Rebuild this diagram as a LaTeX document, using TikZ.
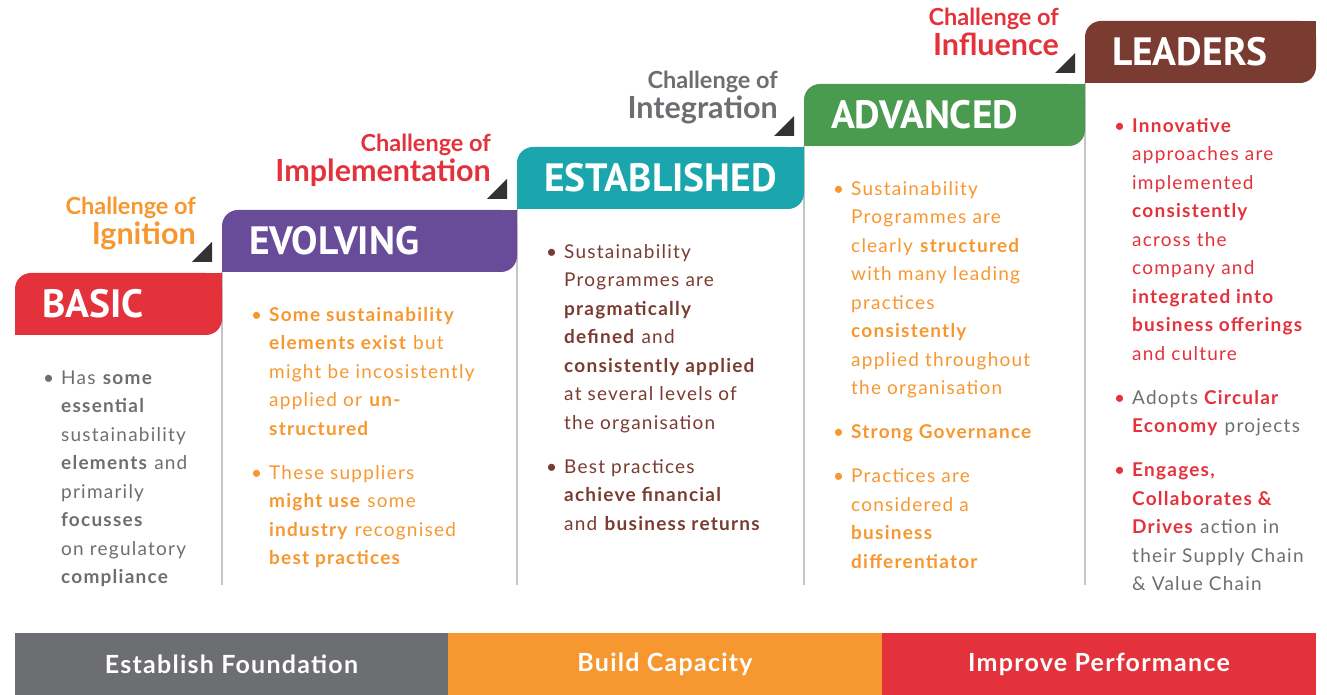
\documentclass[tikz,border=0pt]{standalone}
\usepackage{fontspec}
\setmainfont{Lato}
\newfontfamily\widefont[LetterSpace=5]{Lato}
\newfontfamily\bodyfont[LetterSpace=6.5]{Lato}
\newfontfamily\titlefont{PT Sans}
\usetikzlibrary{positioning}
\pgfdeclarelayer{bg}
\pgfsetlayers{bg,main}

\definecolor{basicred}{HTML}{E3323B}
\definecolor{evolvepurple}{HTML}{684C9A}
\definecolor{estabteal}{HTML}{1AA6AC}
\definecolor{advgreen}{HTML}{4A9A50}
\definecolor{leadbrown}{HTML}{7A3B30}
\definecolor{midgray}{HTML}{6D6E71}
\definecolor{warmorange}{HTML}{F7972F}
\definecolor{sepgray}{HTML}{C4C5C7}
\definecolor{tipgray}{HTML}{333333}

\newcommand{\bl}{\makebox[18pt][l]{\textbullet}}

\begin{document}
\begin{tikzpicture}[x=1pt,y=1pt,
    tab/.style={rounded corners=16pt, minimum height=62pt, inner xsep=27pt, inner ysep=0pt,
      outer sep=0pt, align=left, text=white, font=\titlefont\bfseries\fontsize{39.5}{41}\selectfont},
    body/.style={anchor=north west, inner sep=0pt, align=left, font=\bodyfont\fontsize{19}{28.5}\selectfont},
    chalsmall/.style={anchor=base east, inner sep=0pt, font=\bfseries\fontsize{23.5}{25}\selectfont},
    chalbig/.style={anchor=base east, inner sep=0pt, font=\bfseries\fontsize{30.5}{32}\selectfont},
    sepline/.style={draw=sepgray, line width=1.5pt},
    bar/.style={minimum height=62pt, inner sep=0pt, outer sep=0pt, text=white,
      font=\widefont\bfseries\fontsize{25}{27}\selectfont}]
  \useasboundingbox (0,0) rectangle (1327,695);
  \coordinate (floor) at (0,110);

  % the five steps
  \node[tab, fill=basicred, minimum width=207pt, text width=153pt, anchor=north west] (basic) at (15,422) {BASIC};
  \node[tab, fill=evolvepurple, minimum width=295pt, text width=241pt, anchor=south west] (evolving) at ([yshift=1pt]basic.north east) {EVOLVING};
  \node[tab, fill=estabteal, minimum width=287pt, text width=233pt, anchor=south west] (established) at ([yshift=1pt]evolving.north east) {ESTABLISHED};
  \node[tab, fill=advgreen, minimum width=281pt, text width=227pt, anchor=south west] (advanced) at ([yshift=1pt]established.north east) {ADVANCED};
  \node[tab, fill=leadbrown, minimum width=231pt, text width=177pt, anchor=south west] (leaders) at ([yshift=1pt]advanced.north east) {LEADERS};

  % square off two corners of each step
  \foreach \s/\c in {basic/basicred, evolving/evolvepurple, established/estabteal, advanced/advgreen, leaders/leadbrown} {
    \fill[\c] (\s.south west) rectangle ++(18,18);
    \fill[\c] (\s.north east) rectangle ++(-18,-18);
  }

  % column rules
  \begin{pgfonlayer}{bg}
    \foreach \s in {evolving, established, advanced, leaders}
      \draw[sepline] (\s.south west) -- (\s.south west |- floor);
  \end{pgfonlayer}

  % challenges
  \foreach \s/\c/\t in {evolving/warmorange/Ignition, established/basicred/Implementation,
      advanced/midgray/Integration, leaders/basicred/Influence} {
    \fill[tipgray] ([shift={(-10,10)}]\s.south west) -- ++(0,20) -- ++(-20,-20) -- cycle;
    \node[chalsmall, text=\c] at ([shift={(-26,57)}]\s.south west) {Challenge of};
    \node[chalbig, text=\c] at ([shift={(-26,27)}]\s.south west) {\t};
  }

  % texts
  \node[body, text=midgray] (basictxt) at ([shift={(28,-29)}]basic.south west) {%
    \begin{tabular}{@{}l@{}l@{}}
      \bl & Has \textbf{some}\\
      & \textbf{essential}\\
      & sustainability\\
      & \textbf{elements} and\\
      & primarily\\
      & \textbf{focusses}\\
      & on regulatory\\
      & \textbf{compliance}
    \end{tabular}};
  \node[body, text=warmorange] (evolvingtxt) at ([shift={(29,-29)}]evolving.south west) {%
    \begin{tabular}{@{}l@{}l@{}}
      \bl & \textbf{Some sustainability}\\
      & \textbf{elements exist} but\\
      & might be incosistently\\
      & applied or \textbf{un-}\\
      & \textbf{structured}\\[15.5pt]
      \bl & These suppliers\\
      & \textbf{might use} some\\
      & \textbf{industry} recognised\\
      & \textbf{best practices}
    \end{tabular}};
  \node[body, text=leadbrown] (establishedtxt) at ([shift={(29,-29)}]established.south west) {%
    \begin{tabular}{@{}l@{}l@{}}
      \bl & Sustainability\\
      & Programmes are\\
      & \textbf{pragmatically}\\
      & \textbf{defined} and\\
      & \textbf{consistently applied}\\
      & at several levels of\\
      & the organisation\\[15.5pt]
      \bl & Best practices\\
      & \textbf{achieve financial}\\
      & and \textbf{business returns}
    \end{tabular}};
  \node[body, text=warmorange] (advancedtxt) at ([shift={(29,-29)}]advanced.south west) {%
    \begin{tabular}{@{}l@{}l@{}}
      \bl & Sustainability\\
      & Programmes are\\
      & clearly \textbf{structured}\\
      & with many leading\\
      & practices\\
      & \textbf{consistently}\\
      & applied throughout\\
      & the organisation\\[15.5pt]
      \bl & \textbf{Strong Governance}\\[15.5pt]
      \bl & Practices are\\
      & considered a\\
      & \textbf{business}\\
      & \textbf{differentiator}
    \end{tabular}};
  \node[body, text=basicred] (leaderstxt) at ([shift={(29,-29)}]leaders.south west) {%
    \begin{tabular}{@{}l@{}l@{}}
      \bl & \textbf{Innovative}\\
      & approaches are\\
      & implemented\\
      & \textbf{consistently}\\
      & across the\\
      & company and\\
      & \textbf{integrated into}\\
      & \textbf{business offerings}\\
      & and culture\\[15.5pt]
      \bl & \textcolor{midgray}{Adopts} \textbf{Circular}\\
      & \textbf{Economy} \textcolor{midgray}{projects}\\[15.5pt]
      \bl & \textbf{Engages,}\\
      & \textbf{Collaborates \&}\\
      & \textbf{Drives} \textcolor{midgray}{action in}\\
      & \textcolor{midgray}{their Supply Chain}\\
      & \textcolor{midgray}{\& Value Chain}
    \end{tabular}};

  % bottom band
  \node[bar, fill=midgray, minimum width=433pt, anchor=south west] (found) at (15,0) {Establish Foundation};
  \node[bar, fill=warmorange, minimum width=434pt, right=0pt of found] (build) {Build Capacity};
  \node[bar, fill=basicred, minimum width=434pt, right=0pt of build] (improve) {Improve Performance};
\end{tikzpicture}
\end{document}
